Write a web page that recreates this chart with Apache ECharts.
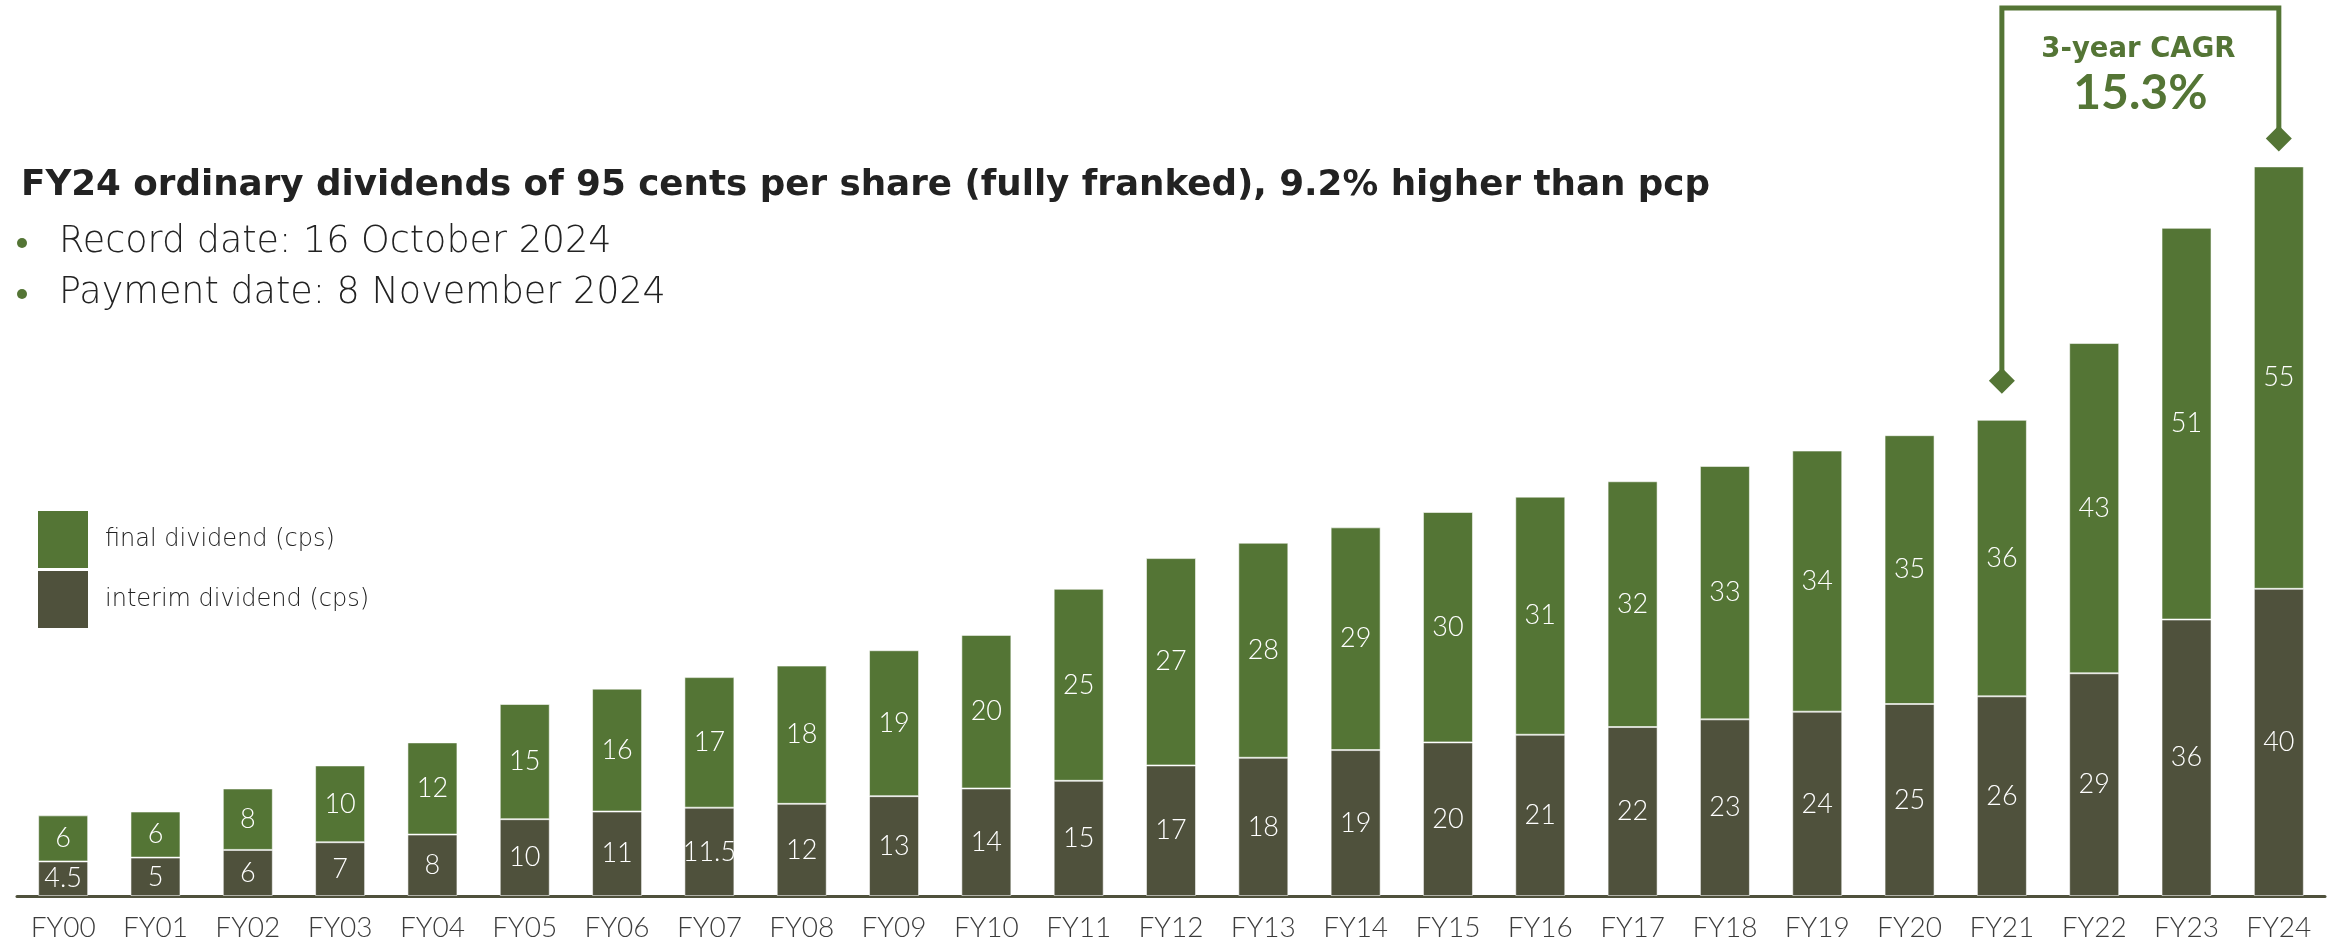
<!DOCTYPE html>
<html>
<head>
<meta charset="utf-8">
<script src="https://cdn.jsdelivr.net/npm/echarts@6/dist/echarts.min.js"></script>
<style>
  html, body { margin: 0; padding: 0; background: #fff; }
  #chart { width: 2333px; height: 942px; }
</style>
</head>
<body>
<div id="chart"></div>
<script>
// data
var years = ['FY00', 'FY01', 'FY02', 'FY03', 'FY04', 'FY05', 'FY06', 'FY07', 'FY08', 'FY09', 'FY10', 'FY11', 'FY12',
    'FY13', 'FY14', 'FY15', 'FY16', 'FY17', 'FY18', 'FY19', 'FY20', 'FY21', 'FY22', 'FY23', 'FY24'];
var interimDiv = [4.5, 5, 6, 7, 8, 10, 11, 11.5, 12, 13, 14, 15, 17, 18, 19, 20, 21, 22, 23, 24, 25, 26, 29, 36, 40];
var finalDiv = [6, 6, 8, 10, 12, 15, 16, 17, 18, 19, 20, 25, 27, 28, 29, 30, 31, 32, 33, 34, 35, 36, 43, 51, 55];
var cagrFrom = 'FY21';
var cagrTo = 'FY24';

var titleText = 'FY24 ordinary dividends of 95 cents per share (fully franked), 9.2% higher than pcp';
var bullets = ['Record date: 16 October 2024', 'Payment date: 8 November 2024'];

var GREEN = '#547535';
var OLIVE = '#4f513c';

(function() {
    var chart = echarts.init(document.getElementById('chart'));

    var barLabel = {
        show: true,
        position: 'inside',
        color: '#fff',
        fontFamily: 'Lato',
        fontWeight: 300,
        fontSize: 27
    };

    var option = {
        animation: false,
        grid: {
            left: 17,
            right: 8,
            top: 128,
            bottom: 44
        },
        legend: {
            data: ['final dividend (cps)', 'interim dividend (cps)'],
            orient: 'vertical',
            left: 38,
            top: 511,
            padding: 0,
            icon: 'rect',
            itemWidth: 50,
            itemHeight: 57,
            itemGap: 3,
            itemStyle: { borderWidth: 0 },
            textStyle: {
                color: '#222',
                fontFamily: 'DejaVu Sans',
                fontWeight: 200,
                fontSize: 24,
                padding: [0, 0, 0, 12]
            }
        },
        xAxis: {
            type: 'category',
            data: years,
            axisTick: { show: false },
            axisLine: {
                lineStyle: { color: OLIVE, width: 3 }
            },
            axisLabel: {
                interval: 0,
                margin: 18,
                color: '#3c3c3c',
                fontFamily: 'Lato',
                fontWeight: 300,
                fontSize: 28
            }
        },
        yAxis: {
            type: 'value',
            min: 0,
            max: 100,
            show: false,
            splitLine: { show: false }
        },
        series: [{
            name: 'interim dividend (cps)',
            type: 'bar',
            stack: 'div',
            barWidth: 50,
            data: interimDiv,
            itemStyle: {
                color: OLIVE,
                borderColor: 'rgba(255,255,255,0.55)',
                borderWidth: 1
            },
            label: barLabel
        }, {
            name: 'final dividend (cps)',
            type: 'bar',
            stack: 'div',
            barWidth: 50,
            data: finalDiv,
            itemStyle: {
                color: GREEN,
                borderColor: 'rgba(255,255,255,0.55)',
                borderWidth: 1
            },
            label: barLabel
        }]
    };
    chart.setOption(option);

    // header text
    var graphics = [{
        type: 'text',
        style: {
            text: titleText,
            x: 21, y: 186,
            verticalAlign: 'middle',
            fill: '#222',
            font: 'bold 35.7px "DejaVu Sans"'
        }
    }];
    bullets.forEach(function(b, i) {
        var cy = 243 + i * 51;
        graphics.push({
            type: 'circle',
            shape: { cx: 22, cy: cy, r: 5 },
            style: { fill: GREEN }
        });
        graphics.push({
            type: 'text',
            style: {
                text: b,
                x: 59, y: cy,
                verticalAlign: 'middle',
                fill: '#222',
                font: '200 36.5px "DejaVu Sans"'
            }
        });
    });

    // CAGR bracket from FY21 to FY24
    var i0 = years.indexOf(cagrFrom);
    var i1 = years.indexOf(cagrTo);
    var p0 = chart.convertToPixel({ gridIndex: 0 }, [cagrFrom, interimDiv[i0] + finalDiv[i0]]);
    var p1 = chart.convertToPixel({ gridIndex: 0 }, [cagrTo, interimDiv[i1] + finalDiv[i1]]);
    var y0 = p0[1] - 39;
    var y1 = p1[1] - 28;
    var topY = 8;
    graphics.push({
        type: 'polyline',
        shape: { points: [[p0[0], y0], [p0[0], topY], [p1[0], topY], [p1[0], y1]] },
        style: { stroke: GREEN, lineWidth: 5, fill: null }
    });
    [[p0[0], y0], [p1[0], y1]].forEach(function(p) {
        graphics.push({
            type: 'polygon',
            shape: { points: [[p[0], p[1] - 13], [p[0] + 13, p[1]], [p[0], p[1] + 13], [p[0] - 13, p[1]]] },
            style: { fill: GREEN }
        });
    });
    var midX = (p0[0] + p1[0]) / 2;
    graphics.push({
        type: 'text',
        style: {
            text: '3-year CAGR',
            x: midX - 2, y: 50,
            align: 'center', verticalAlign: 'middle',
            fill: GREEN,
            font: 'bold 27.5px "DejaVu Sans"'
        }
    });
    graphics.push({
        type: 'text',
        style: {
            text: '15.3%',
            x: midX, y: 94,
            align: 'center', verticalAlign: 'middle',
            fill: GREEN,
            font: 'bold 48px Lato'
        }
    });

    chart.setOption({ graphic: graphics });
})();
</script>
</body>
</html>
